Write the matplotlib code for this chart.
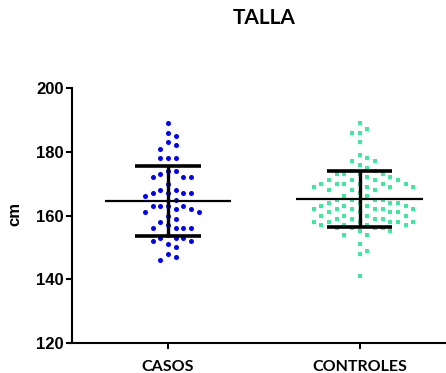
import numpy as np
import matplotlib
matplotlib.use('Agg')
import matplotlib.pyplot as plt

categories = ['CASOS', 'CONTROLES']

# talla (cm) de cada sujeto
casos = [189, 186, 185, 183, 182, 181, 178, 178, 178, 174, 174, 173, 172, 172,
         172, 170, 168, 168, 167, 167, 167, 167, 166, 165, 163, 163, 163, 163,
         162, 162, 161, 161, 160, 159, 158, 157, 156, 156, 156, 156, 154, 153,
         153, 153, 152, 152, 151, 150, 148, 147, 146]

controles = [189, 187, 186, 186, 183, 179, 178, 177, 177, 176, 175, 174, 174,
             173, 173, 173, 173, 172, 172, 171, 171, 171, 171, 170, 170, 170,
             170, 170, 170, 169, 169, 169, 169, 168, 168, 168, 167, 166, 166,
             165, 165, 165, 165, 164, 164, 164, 164, 163, 163, 163, 163, 162,
             162, 162, 162, 162, 162, 161, 161, 161, 161, 160, 160, 160, 160,
             159, 159, 159, 159, 158, 158, 158, 158, 158, 158, 157, 157, 157,
             157, 156, 156, 156, 156, 155, 155, 154, 154, 151, 149, 148, 141]

groups = [casos, controles]
colors = ['#0000ff', '#3de8a0']
markers = ['o', 's']
sizes = [13, 11]


def swarm_offsets(ypix, step=3.83, dmin=7.5):
    # coloca cada punto en la posicion libre mas cercana al centro (en pixeles)
    placed = []
    offs = []
    for y in ypix:
        k = 0
        while True:
            off = ((k + 1) // 2) * step * (1 if k % 2 == 1 else -1) if k > 0 else 0.0
            if all((off - px) ** 2 + (y - py) ** 2 >= dmin ** 2 for px, py in placed):
                break
            k += 1
        placed.append((off, y))
        offs.append(off)
    return np.array(offs)


fig = plt.figure(figsize=(4.46, 3.73), dpi=100)
ax = fig.add_axes([72 / 446, 30 / 373, 374 / 446, 255 / 373])
ax.set_xlim(-0.5, 1.45)
ax.set_ylim(120, 200)

px_per_x = ax.transData.transform([[1, 0]])[0, 0] - ax.transData.transform([[0, 0]])[0, 0]

for i, vals in enumerate(groups):
    vals = np.array(vals, dtype=float)
    ypix = ax.transData.transform(np.column_stack([np.zeros_like(vals), vals]))[:, 1]
    xs = i + swarm_offsets(ypix) / px_per_x
    ax.scatter(xs, vals, s=sizes[i], marker=markers[i], color=colors[i],
               linewidths=0, zorder=2)
    m = vals.mean()
    sd = vals.std(ddof=1)
    print(categories[i], len(vals), round(m, 2), round(sd, 2))
    ax.hlines(m, i - 0.33, i + 0.33, color='black', lw=1.6, zorder=3)
    ax.vlines(i, m - sd, m + sd, color='black', lw=2.4, zorder=3)
    ax.hlines([m - sd, m + sd], i - 0.17, i + 0.17, color='black', lw=2.6, zorder=3)

for side in ['top', 'right']:
    ax.spines[side].set_visible(False)
for side in ['left', 'bottom']:
    ax.spines[side].set_linewidth(1.5)

ax.set_yticks([120, 140, 160, 180, 200])
ax.set_xticks([0, 1])
ax.set_xticklabels(categories, family='Lato', fontweight='bold', fontsize=11.5)
for lab in ax.get_yticklabels():
    lab.set_family('Liberation Sans')
    lab.set_fontweight('bold')
    lab.set_fontsize(12)
ax.tick_params(axis='both', direction='out', length=4, width=1.5, color='black')
ax.tick_params(axis='y', pad=2)
ax.tick_params(axis='x', pad=8)

fig.text(15 / 446, 1 - 214 / 373, 'cm', rotation=90, ha='center', va='center',
         family='Liberation Sans', fontweight='bold', fontsize=12)
fig.text(264 / 446, 1 - 18 / 373, 'TALLA', ha='center', va='center',
         family='Lato', fontweight='bold', fontsize=15)

fig.savefig('out.png', dpi=100)
